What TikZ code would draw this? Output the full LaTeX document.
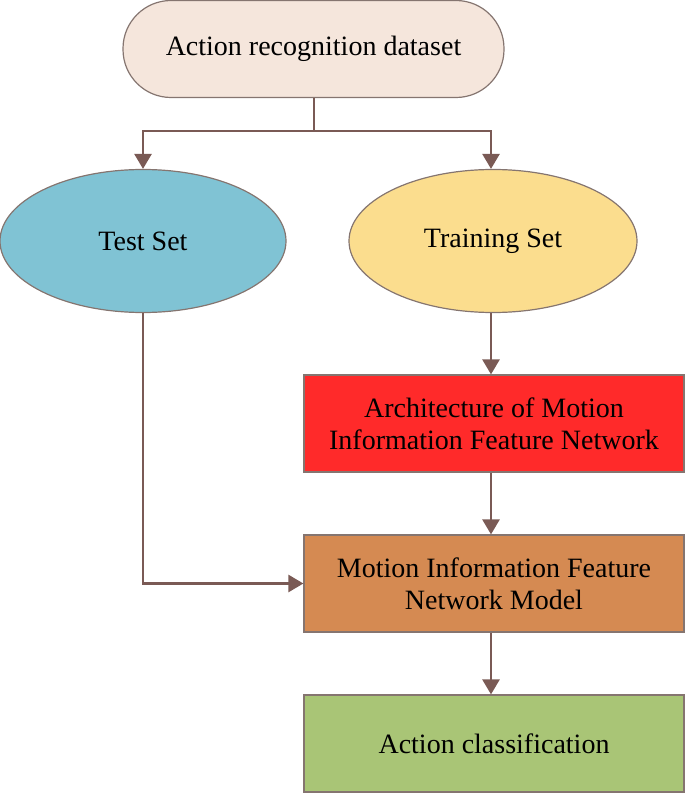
\documentclass[tikz,border=0pt]{standalone}
\usepackage{fontspec}
\setmainfont{Liberation Serif}
\usetikzlibrary{shapes.geometric,arrows.meta}
\definecolor{topfill}{HTML}{F5E6DC}
\definecolor{testfill}{HTML}{80C3D4}
\definecolor{trainfill}{HTML}{FBDD8E}
\definecolor{redfill}{HTML}{FF2A2A}
\definecolor{orangefill}{HTML}{D58A52}
\definecolor{greenfill}{HTML}{A9C576}
\definecolor{linecol}{HTML}{7A5A55}
\definecolor{bordercol}{HTML}{857570}
\begin{document}
\begin{tikzpicture}[x=1pt,y=-1pt,
  every node/.style={font=\fontsize{28}{32}\selectfont, text=black, align=center},
  boxstyle/.style={draw=bordercol, line width=1.2pt, minimum width=380pt, minimum height=97pt, inner sep=0pt},
  ellstyle/.style={ellipse, draw=bordercol, line width=1.2pt, minimum width=286pt, minimum height=143pt, inner sep=0pt},
  conn/.style={draw=linecol, line width=2.6pt, -{Triangle[width=17pt,length=15pt]}},
  plainconn/.style={draw=linecol, line width=2.6pt}]
\useasboundingbox (0,0) rectangle (685,794);
\node[boxstyle, fill=topfill, rounded corners=48pt, minimum width=381pt] (top) at (313.5,49) {Action recognition dataset};
\node[ellstyle, fill=testfill] (test) at (143,241) {Test Set};
\node[ellstyle, fill=trainfill, minimum width=288pt] (train) at (493,241) {Training Set};
\node[boxstyle, fill=redfill] (arch) at (494,423.5) {Architecture of Motion\\Information Feature Network};
\node[boxstyle, fill=orangefill] (model) at (494,583.5) {Motion Information Feature\\Network Model};
\node[boxstyle, fill=greenfill] (cls) at (494,743.5) {Action classification};
\coordinate (split) at (314,131);
\draw[plainconn] (top.south -| split) -- (split);
\draw[conn] (split) -| (test.north);
\draw[conn] (split) -| (train.north -| 491,0);
\draw[conn] (train.south -| 491,0) -- (arch.north -| 491,0);
\draw[conn] (arch.south -| 491,0) -- (model.north -| 491,0);
\draw[conn] (model.south -| 491,0) -- (cls.north -| 491,0);
\draw[conn] (test.south) |- (model.west);
\end{tikzpicture}
\end{document}
